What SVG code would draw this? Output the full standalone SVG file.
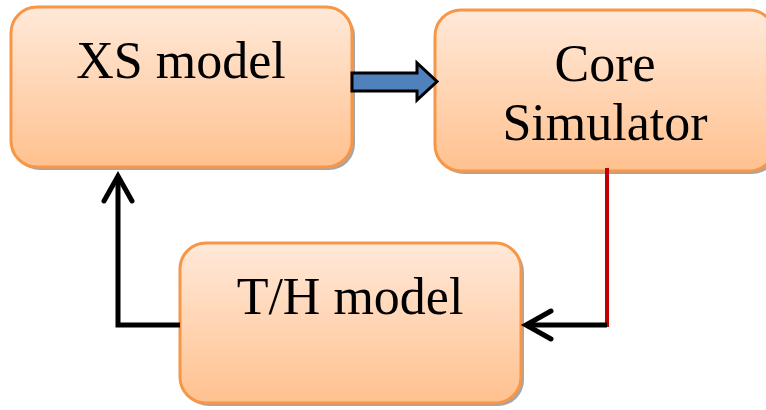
<svg xmlns="http://www.w3.org/2000/svg" width="766" height="410" viewBox="0 0 766 410">
<defs>
<linearGradient id="g" x1="0" y1="0" x2="0" y2="1">
<stop offset="0" stop-color="#FFE9D9"/>
<stop offset="1" stop-color="#FFC18F"/>
</linearGradient>
<style>
.box{fill:url(#g);stroke:#F79646;stroke-width:3}
.sh{fill:#A6A6A6}
.t{font-family:"Liberation Serif","Times New Roman",serif;font-size:52px;fill:#000;text-anchor:middle}
.ln{fill:none;stroke:#000;stroke-width:5}
</style>
</defs>
<g id="xs-model">
<rect class="sh" x="14" y="10" width="341" height="160" rx="26"/>
<rect class="box" x="11" y="7" width="341" height="160" rx="26"/>
<text class="t" x="181" y="78">XS model</text>
</g>
<g id="core-simulator">
<rect class="sh" x="438" y="13" width="340" height="161" rx="26"/>
<rect class="box" x="435" y="10" width="340" height="161" rx="26"/>
<text class="t" x="605" y="81">Core</text>
<text class="t" x="605" y="140">Simulator</text>
</g>
<g id="th-model">
<rect class="sh" x="183" y="246" width="341" height="160" rx="26"/>
<rect class="box" x="180" y="243" width="341" height="160" rx="26"/>
<text class="t" x="350" y="314">T/H model</text>
</g>
<g id="connectors">
<path d="M352,73 H417 V63 L437,81.5 L417,100 V91 H352 Z" fill="#4F81BD" stroke="#000" stroke-width="3" stroke-linejoin="miter"/>
<path d="M607,168 V327" fill="none" stroke="#C00000" stroke-width="4"/>
<path class="ln" d="M607,325 H526"/>
<path class="ln" d="M551,311 L526,325 L551,339" stroke-linecap="round" stroke-linejoin="miter"/>
<path class="ln" d="M180,325 H118 V176"/>
<path class="ln" d="M104,201 L118,176 L132,201" stroke-linecap="round" stroke-linejoin="miter"/>
</g>
</svg>
